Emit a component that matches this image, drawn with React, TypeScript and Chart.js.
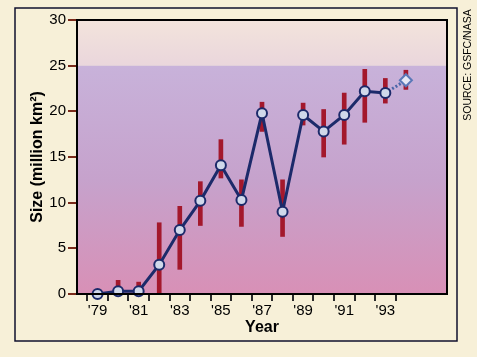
import React, { useEffect, useRef } from 'react';
import { Chart, registerables } from 'chart.js';

Chart.register(...registerables);

const years = [79, 80, 81, 82, 83, 84, 85, 86, 87, 88, 89, 90, 91, 92, 93, 94];
const sizes = [0, 0.3, 0.3, 3.2, 7.0, 10.2, 14.1, 10.3, 19.8, 9.0, 19.6, 17.8, 19.6, 22.2, 22.0, 23.4];
const errLow = [null, 0, 0, 0, 2.7, 7.5, 12.7, 7.4, 17.8, 6.3, 18.5, 15.0, 16.4, 18.8, 20.9, 22.4];
const errHigh = [null, 1.5, 1.3, 7.8, 9.6, 12.3, 16.9, 12.5, 21.0, 12.5, 20.9, 20.2, 22.0, 24.6, 23.6, 24.5];
const labeledYears = [79, 81, 83, 85, 87, 89, 91, 93];
const yTickValues = [0, 5, 10, 15, 20, 25, 30];
const yTitle = 'Size (million km²)';
const xTitle = 'Year';
const sourceText = 'SOURCE: GSFC/NASA';

const FONT = "'Liberation Sans', Arial, Helvetica, sans-serif";

const backgroundPlugin = {
  id: 'plotBackground',
  beforeDraw(chart: any) {
    const { ctx, chartArea, scales } = chart;
    const y = scales.y;
    const y25 = y.getPixelForValue(25);
    const { left, right, top, bottom } = chartArea;
    ctx.save();
    const g1 = ctx.createLinearGradient(0, top, 0, y25);
    g1.addColorStop(0, '#f3e4dc');
    g1.addColorStop(1, '#ead6dc');
    ctx.fillStyle = g1;
    ctx.fillRect(left, top, right - left, y25 - top);
    const g2 = ctx.createLinearGradient(0, y25, 0, bottom);
    g2.addColorStop(0, '#c8b2da');
    g2.addColorStop(0.5, '#c6a2cc');
    g2.addColorStop(1, '#d890b6');
    ctx.fillStyle = g2;
    ctx.fillRect(left, y25, right - left, bottom - y25);
    ctx.restore();
  },
  afterDraw(chart: any) {
    const { ctx, chartArea } = chart;
    const { left, right, top, bottom } = chartArea;
    ctx.save();
    ctx.strokeStyle = '#000';
    ctx.lineWidth = 2;
    ctx.strokeRect(left, top, right - left, bottom - top);
    ctx.strokeStyle = '#10102e';
    ctx.lineWidth = 1.5;
    ctx.strokeRect(15, 8, 442, 333);
    ctx.translate(468, 65);
    ctx.rotate(-Math.PI / 2);
    ctx.fillStyle = '#000';
    ctx.font = `10.5px ${FONT}`;
    ctx.textAlign = 'center';
    ctx.textBaseline = 'middle';
    ctx.fillText(sourceText, 0, 0);
    ctx.restore();
  },
};

export default function App() {
  const ref = useRef<HTMLCanvasElement | null>(null);

  useEffect(() => {
    if (!ref.current) return;
    const last = years.length - 1;
    const chart = new Chart(ref.current, {
      type: 'line',
      data: {
        datasets: [
          {
            type: 'bar',
            data: years
              .map((x, i) => (errLow[i] === null ? null : { x, y: [errLow[i], errHigh[i]] }))
              .filter((d) => d !== null) as any,
            backgroundColor: '#a3182c',
            borderWidth: 0,
            barThickness: 4,
            order: 2,
          } as any,
          {
            type: 'line',
            data: years.map((x, i) => ({ x, y: sizes[i] })),
            borderColor: '#1c2a6a',
            borderWidth: 3,
            pointRadius: years.map((_, i) => (i === last ? 6 : 5)),
            pointStyle: years.map((_, i) => (i === last ? 'rectRot' : 'circle')) as any,
            pointBorderWidth: 2,
            pointBackgroundColor: years.map((_, i) => (i === last ? '#e6e8f4' : '#d0d8ea')),
            pointBorderColor: years.map((_, i) => (i === last ? '#5a78b8' : '#1c2a6a')),
            segment: {
              borderDash: (c: any) => (c.p1DataIndex === last ? [2, 2] : undefined),
              borderColor: (c: any) => (c.p1DataIndex === last ? '#4a66a8' : undefined),
            },
            clip: false as any,
            order: 1,
          } as any,
        ],
      },
      options: {
        animation: false,
        responsive: false,
        maintainAspectRatio: false,
        layout: { padding: { top: 20, right: 30, left: 0, bottom: 0 } },
        plugins: { legend: { display: false }, tooltip: { enabled: false } },
        scales: {
          x: {
            type: 'linear',
            min: 78,
            max: 96,
            offset: false,
            afterFit: (s: any) => {
              s.height = 63;
            },
            ticks: {
              stepSize: 1,
              autoSkip: false,
              maxRotation: 0,
              padding: 1,
              color: '#000',
              font: { family: FONT, size: 15 },
              callback: (v: any) => (labeledYears.includes(Number(v)) ? `'${v}` : ''),
            },
            grid: {
              drawOnChartArea: false,
              drawTicks: true,
              tickLength: 7,
              lineWidth: 2,
              color: (c: any) =>
                c.tick && c.tick.value >= years[0] && c.tick.value <= years[last] ? '#2a2a2a' : 'rgba(0,0,0,0)',
            },
            border: { display: true, color: '#000', width: 2 },
            title: {
              display: true,
              text: xTitle,
              color: '#000',
              font: { family: FONT, size: 16, weight: 'bold' },
              padding: { top: 0, bottom: 20 },
            },
          },
          y: {
            min: 0,
            max: 30,
            afterFit: (s: any) => {
              s.width = 77;
            },
            afterBuildTicks: (s: any) => {
              s.ticks = yTickValues.map((v) => ({ value: v }));
            },
            ticks: {
              padding: 2,
              color: '#000',
              font: { family: FONT, size: 15 },
            },
            grid: {
              drawOnChartArea: false,
              drawTicks: true,
              tickLength: 9,
              lineWidth: 2,
              color: '#7a2a1a',
            },
            border: { display: true, color: '#000', width: 2 },
            title: {
              display: true,
              text: yTitle,
              color: '#000',
              font: { family: FONT, size: 16, weight: 'bold' },
              padding: { top: 28, bottom: 0 },
            },
          },
        },
      },
      plugins: [backgroundPlugin],
    });
    return () => chart.destroy();
  }, []);

  return (
    <div style={{ position: 'fixed', left: 0, top: 0, right: 0, bottom: 0, background: '#f7f0d8' }}>
      <canvas
        ref={ref}
        width={477}
        height={357}
        style={{ position: 'absolute', left: 0, top: 0, width: 477, height: 357 }}
      />
    </div>
  );
}
